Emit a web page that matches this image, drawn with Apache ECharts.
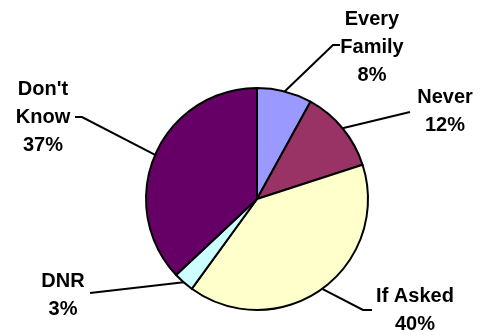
<!DOCTYPE html>
<html>
<head>
<meta charset="utf-8">
<script src="https://cdn.jsdelivr.net/npm/echarts@6/dist/echarts.min.js"></script>
<style>
html,body{margin:0;padding:0;background:#fff;}
#chart{width:484px;height:335px;}
</style>
</head>
<body>
<div id="chart"></div>
<script>
var categories = ['Every\nFamily', 'Never', 'If Asked', 'DNR', "Don't\nKnow"];
var values = [8, 12, 40, 3, 37];
var colors = ['#9999FF', '#993366', '#FFFFCC', '#CCFFFF', '#660066'];

// label block centers and leader-line bend/end points (layout only)
var labelPos = [
  {x: 372, y: 47, line: [[333, 45], [340, 45]]},
  {x: 445, y: 111, line: [[410, 112], [410, 112]]},
  {x: 415, y: 310, line: [[363, 310], [372, 310]]},
  {x: 63, y: 295, line: [[90, 293], [90, 293]]},
  {x: 43, y: 117, line: [[82, 117], [75, 117]]}
];

var chart = echarts.init(document.getElementById('chart'));
chart.setOption({
  animation: false,
  backgroundColor: '#ffffff',
  series: [{
    type: 'pie',
    center: [257, 199],
    radius: 111,
    startAngle: 90,
    clockwise: true,
    percentPrecision: 0,
    data: categories.map(function (c, i) {
      return {name: c, value: values[i], itemStyle: {color: colors[i]}};
    }),
    itemStyle: {borderColor: '#000', borderWidth: 2},
    label: {
      show: true,
      position: 'outside',
      formatter: '{b}\n{d}%',
      fontFamily: 'Liberation Sans, Arial, sans-serif',
      fontWeight: 'bold',
      fontSize: 20,
      lineHeight: 28,
      color: '#000',
      align: 'center'
    },
    labelLine: {
      show: true,
      lineStyle: {color: '#000', width: 2}
    },
    labelLayout: function (params) {
      var p = labelPos[params.dataIndex];
      var start = params.labelLinePoints ? params.labelLinePoints[0] : [p.x, p.y];
      return {
        x: p.x,
        y: p.y,
        align: 'center',
        verticalAlign: 'middle',
        labelLinePoints: [start, p.line[0], p.line[1]]
      };
    },
    emphasis: {disabled: true}
  }]
});
</script>
</body>
</html>
